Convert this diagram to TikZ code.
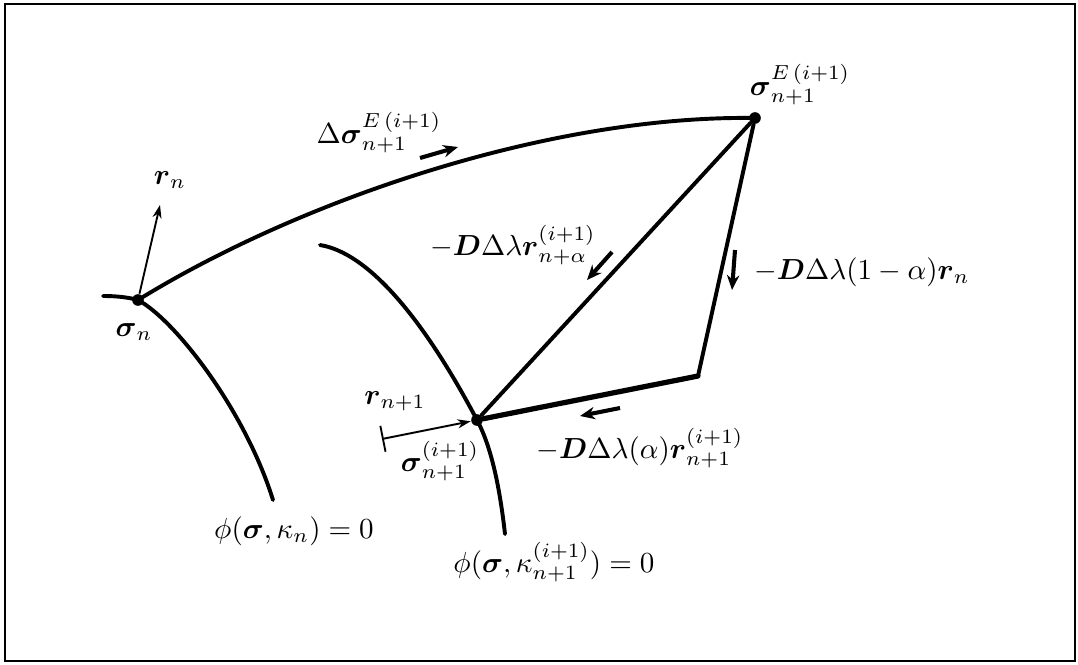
\documentclass[tikz,border=0pt]{standalone}
\usepackage{amsmath,amssymb}
\usepackage{tikz}
\usetikzlibrary{arrows.meta}
\tikzset{
  dot/.style    = {fill, circle, inner sep=0pt, minimum size=4pt},
  curve/.style  = {line width=1.35pt, line cap=round},
  edge/.style   = {line width=1.35pt, line cap=round, line join=round},
  vec/.style    = {-{Stealth[length=1.6mm,width=1.1mm]}, line width=0.65pt},
  vecbar/.style = {{Bar[width=3.2mm]}-{Stealth[length=1.6mm,width=1.1mm]}, line width=0.65pt},
  dir/.style    = {-{Stealth[length=1.8mm,width=1.5mm]}, line width=1.4pt},
}

\begin{document}
\begin{tikzpicture}[x=0.121cm,y=-0.121cm]
\useasboundingbox (0,0) rectangle (107.8,66.4);
\draw[line width=0.8pt] (0.5,0.4) rectangle (107.5,66.1);

% stress points
\node[dot] (sn) at (13.8,30.0) {};
\node[dot] (sE) at (75.5,11.8) {};
\node[dot] (s1) at (47.7,42.0) {};
\coordinate (c) at (69.8,37.6);

% yield surfaces
\draw[curve] (10.3,29.6) .. controls (11.5,29.6) and (12.7,29.7) .. (sn.center)
  .. controls (17.5,32.0) and (24.5,41.0) .. (27.3,50.0);
\draw[curve] (32.0,24.5) .. controls (38.0,25.5) and (44.0,35.0) .. (s1.center)
  .. controls (49.2,44.8) and (50.0,49.0) .. (50.5,53.4);

% predictor and return paths
\draw[curve] (sn.center) .. controls (30.0,20.0) and (55.0,11.5) .. (sE.center);
\draw[edge] (sE) -- (s1);
\draw[edge] (sE) -- (c);
\draw[edge,line width=1.8pt] (c) -- (s1);

% flow directions
\coordinate (rn) at (16.0,20.5);
\coordinate (t1) at (38.2,43.9);
\draw[vec] (sn) -- (rn);
\draw[vecbar] (t1) -- (s1);

% small arrows
\coordinate (a1) at (42.0,15.8); \coordinate (b1) at (45.8,14.7);
\coordinate (a2) at (61.2,25.2); \coordinate (b2) at (58.7,28.0);
\coordinate (a3) at (73.5,25.0); \coordinate (b3) at (73.2,29.0);
\coordinate (a4) at (62.0,40.8); \coordinate (b4) at (58.0,41.6);
\draw[dir] (a1) -- (b1);
\draw[dir] (a2) -- (b2);
\draw[dir] (a3) -- (b3);
\draw[dir] (a4) -- (b4);

% labels
\node (lsn) at (13.4,33.2) {$\boldsymbol{\sigma}_n$};
\node (lrn) at (17.0,18.0) {$\boldsymbol{r}_n$};
\node (lr1) at (39.5,40.1) {$\boldsymbol{r}_{n+1}$};
\node (ls1) at (44.0,46.1) {$\boldsymbol{\sigma}^{(i+1)}_{n+1}$};
\node (lsE) at (80.0,8.5) {$\boldsymbol{\sigma}^{E\,(i+1)}_{n+1}$};
\node (ldE) at (37.9,13.3) {$\Delta\boldsymbol{\sigma}^{E\,(i+1)}_{n+1}$};
\node (lra) at (51.3,24.5) {$-\boldsymbol{D}\Delta\lambda\boldsymbol{r}^{(i+1)}_{n+\alpha}$};
\node (lrb) at (86.2,27.2) {$-\boldsymbol{D}\Delta\lambda(1-\alpha)\boldsymbol{r}_n$};
\node (lrc) at (64.0,44.8) {$-\boldsymbol{D}\Delta\lambda(\alpha)\boldsymbol{r}^{(i+1)}_{n+1}$};
\node (lf0) at (29.4,53.1) {$\phi(\boldsymbol{\sigma},\kappa_n)=0$};
\node (lf1) at (55.4,56.2) {$\phi(\boldsymbol{\sigma},\kappa^{(i+1)}_{n+1})=0$};
\end{tikzpicture}
\end{document}
